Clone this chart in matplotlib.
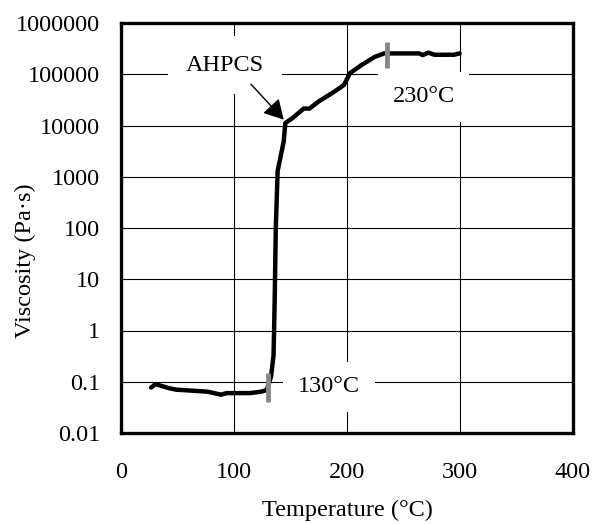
import matplotlib
matplotlib.use("Agg")
import matplotlib.pyplot as plt

plt.rcParams['font.family'] = ['Liberation Serif', 'DejaVu Serif']

# viscosity curve
temperature = [26.6, 30.6, 35.7, 42.5, 49, 63, 76.6, 88.5, 93.6, 114, 124, 129,
               132.8, 135, 136, 137, 138.6, 141, 144, 145.4, 151.5, 161.7, 166.8,
               175, 189, 197.4, 202.6, 212.8, 224.7, 233, 263.8, 267, 272, 277.4,
               294.5, 299.6]
viscosity = [0.077, 0.09, 0.083, 0.075, 0.070, 0.067, 0.064, 0.056, 0.06, 0.06,
             0.064, 0.069, 0.126, 0.33, 3.9, 102, 1290, 2340, 4900, 11200, 13800,
             21400, 21400, 29500, 46000, 62000, 105000, 151000, 219000, 255000,
             255000, 236000, 264000, 240000, 240000, 255000]

# gray markers at 130 and ~230 C
marker_x = [130, 235]
marker_lo = [0.041, 1.3e5]
marker_hi = [0.146, 4.3e5]

x_ticks = [0, 100, 200, 300, 400]
y_ticks = [0.01, 0.1, 1, 10, 100, 1000, 10000, 100000, 1000000]
y_labels = ['0.01', '0.1', '1', '10', '100', '1000', '10000', '100000', '1000000']

FS = 17.5

fig = plt.figure(figsize=(6.05, 5.24), dpi=100)
ax = fig.add_axes([121 / 605, 1 - 433 / 524, 452 / 605, 410 / 524])

ax.set_yscale('log')
ax.set_xlim(0, 400)
ax.set_ylim(0.01, 1000000)
ax.set_xticks(x_ticks)
ax.set_xticklabels([str(t) for t in x_ticks])
ax.set_yticks(y_ticks)
ax.set_yticklabels(y_labels)
ax.minorticks_off()
ax.tick_params(length=0, labelsize=FS)
ax.tick_params(axis='y', pad=15)
ax.tick_params(axis='x', pad=21)
ax.grid(True, color='black', linewidth=0.8, zorder=1)
ax.set_axisbelow(True)
for s in ax.spines.values():
    s.set_linewidth(2.4)

ax.plot(temperature, viscosity, color='black', linewidth=3.2,
        solid_capstyle='round', solid_joinstyle='round', zorder=4)
for x, lo, hi in zip(marker_x, marker_lo, marker_hi):
    ax.plot([x, x], [lo, hi], color='#888888', linewidth=3.5,
            solid_capstyle='butt', zorder=5)

box = dict(boxstyle='square,pad=0.75', facecolor='white', edgecolor='none')
ax.text(92, 1.5e5, 'AHPCS', fontsize=FS, ha='center', va='center',
        bbox=box, zorder=3)
ax.text(184, 0.079, '130°C', fontsize=FS, ha='center', va='center',
        bbox=dict(boxstyle='square,pad=0.6', facecolor='white', edgecolor='none'),
        zorder=3)
ax.text(268, 36000, '230°C', fontsize=FS, ha='center', va='center',
        bbox=dict(boxstyle='square,pad=0.6', facecolor='white', edgecolor='none'),
        zorder=3)
ax.annotate('', xy=(144, 13000), xytext=(115, 64000),
            arrowprops=dict(arrowstyle='-|>,head_length=0.5,head_width=0.28',
                            color='black', lw=1.0,
                            mutation_scale=24, shrinkA=0, shrinkB=0),
            zorder=6)

ax.set_xlabel('Temperature (°C)', fontsize=FS)
ax.set_ylabel('Viscosity (Pa·s)', fontsize=FS)
ax.xaxis.set_label_coords(0.5, -0.163)
ax.yaxis.set_label_coords(-0.189, 0.42)

fig.savefig('out.png', dpi=100)
